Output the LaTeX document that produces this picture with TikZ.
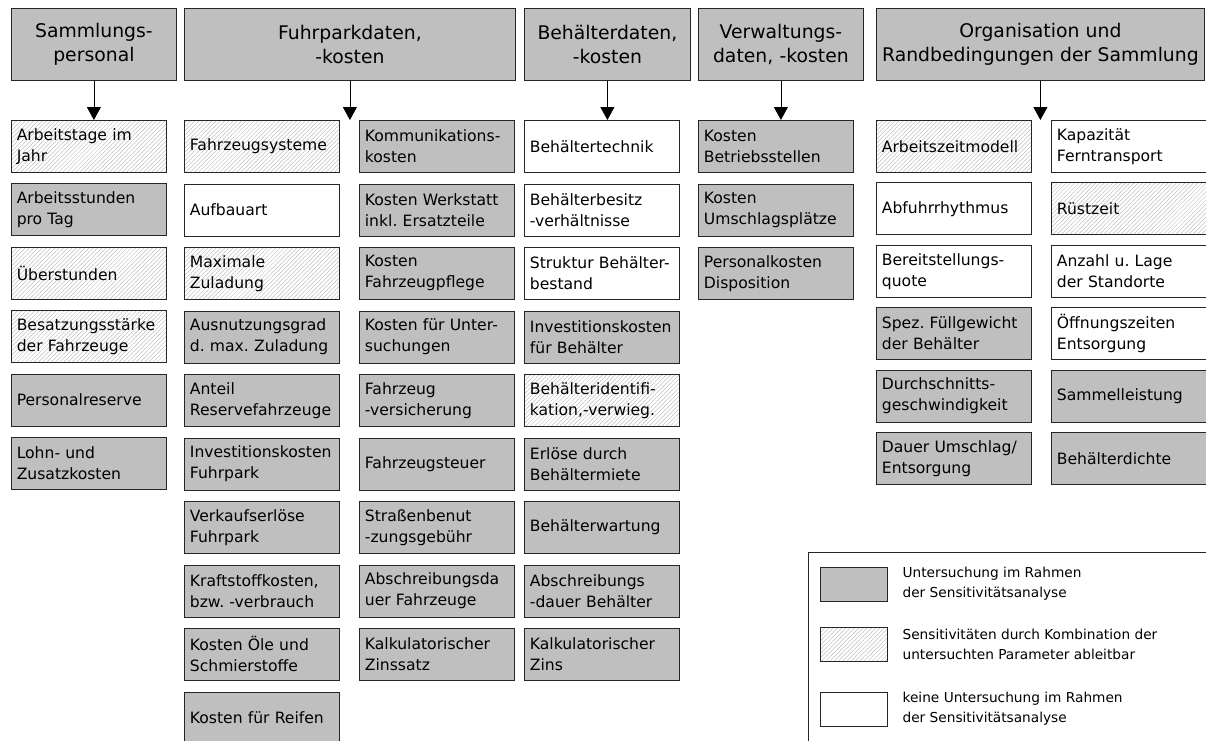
\documentclass[tikz,border=0pt]{standalone}
\usepackage{fontspec}
\setmainfont{DejaVu Sans}
\usetikzlibrary{positioning,chains,scopes,arrows.meta,patterns.meta}
\definecolor{boxgray}{gray}{0.75}
\hyphenpenalty=10000
\exhyphenpenalty=10000
\frenchspacing

\begin{document}
\begin{tikzpicture}[
  x=1pt, y=-1pt,
  node distance = 10.7pt,
  base node/.style={
    draw=black!85,
    line width=0.8pt,
    inner ysep=0pt,
  },
  head node/.style={
    base node,
    fill=boxgray,
    anchor=north west,
    inner xsep=4pt,
    text width=#1,
    minimum height=72pt,
    align=center,
    font=\fontsize{18.8}{24}\selectfont,
  },
  item node/.style={
    base node,
    inner xsep=5.5pt,
    text width=144pt,
    minimum height=52pt,
    align=left,
    font=\fontsize{15.6}{21}\selectfont,
  },
  hatched/.style={
    pattern={Lines[angle=45,distance=3pt,line width=0.5pt]},
    pattern color=black!25,
  },
  gray node/.style={item node, fill=boxgray},
  hatch node/.style={item node, hatched},
  plain node/.style={item node, fill=white},
  key node/.style={
    base node,
    minimum width=67pt,
    minimum height=34pt,
    inner sep=0pt,
  },
  key text/.style={
    inner sep=0pt,
    align=left,
    font=\fontsize{13.7}{20}\selectfont,
  },
  down arrow/.style={-{Triangle[width=14pt,length=13pt]}, line width=0.8pt},
  ]
  \useasboundingbox (0,0) rectangle (1206,740);

  % header row
  \node[head node=157pt] (h1) at (11,8) {Sammlungs-\\personal};
  \node[head node=323pt] (h2) at (184,8) {Fuhrparkdaten,\\-kosten};
  \node[head node=158pt] (h3) at (524,8) {Behälterdaten,\\-kosten};
  \node[head node=157pt] (h4) at (698,8) {Verwaltungs-\\daten, -kosten};
  \node[head node=320pt] (h5) at (876,8) {Organisation und\\Randbedingungen der Sammlung};

  {[start chain=going below]
    \node[on chain,hatch node,anchor=north west] (s1) at (11,120) {Arbeitstage im\\Jahr};
    \node[on chain,gray node] (s2) {Arbeitsstunden\\pro Tag};
    \node[on chain,hatch node] (s3) {Überstunden};
    \node[on chain,hatch node] (s4) {Besatzungsstärke\\der Fahrzeuge};
    \node[on chain,gray node] (s5) {Personalreserve};
    \node[on chain,gray node] (s6) {Lohn- und\\Zusatzkosten};
  }
  {[start chain=going below]
    \node[on chain,hatch node,anchor=north west] (f1) at (184,120) {Fahrzeugsysteme};
    \node[on chain,plain node] (f2) {Aufbauart};
    \node[on chain,hatch node] (f3) {Maximale\\Zuladung};
    \node[on chain,gray node] (f4) {Ausnutzungsgrad\\d. max. Zuladung};
    \node[on chain,gray node] (f5) {Anteil\\Reservefahrzeuge};
    \node[on chain,gray node] (f6) {Investitionskosten\\Fuhrpark};
    \node[on chain,gray node] (f7) {Verkaufserlöse\\Fuhrpark};
    \node[on chain,gray node] (f8) {Kraftstoffkosten,\\bzw. -verbrauch};
    \node[on chain,gray node] (f9) {Kosten Öle und\\Schmierstoffe};
    \node[on chain,gray node] (f10) {Kosten für Reifen};
  }
  {[start chain=going below]
    \node[on chain,gray node,anchor=north west] (k1) at (359,120) {Kommunikations-\\kosten};
    \node[on chain,gray node] (k2) {Kosten Werkstatt\\inkl. Ersatzteile};
    \node[on chain,gray node] (k3) {Kosten\\Fahrzeugpflege};
    \node[on chain,gray node] (k4) {Kosten für Unter-\\suchungen};
    \node[on chain,gray node] (k5) {Fahrzeug\\-versicherung};
    \node[on chain,gray node] (k6) {Fahrzeugsteuer};
    \node[on chain,gray node] (k7) {Straßenbenut\\-zungsgebühr};
    \node[on chain,gray node] (k8) {Abschreibungsda\\uer Fahrzeuge};
    \node[on chain,gray node] (k9) {Kalkulatorischer\\Zinssatz};
  }
  {[start chain=going below]
    \node[on chain,plain node,anchor=north west] (b1) at (524,120) {Behältertechnik};
    \node[on chain,plain node] (b2) {Behälterbesitz\\-verhältnisse};
    \node[on chain,plain node] (b3) {Struktur Behälter-\\bestand};
    \node[on chain,gray node] (b4) {Investitionskosten\\für Behälter};
    \node[on chain,hatch node] (b5) {Behälteridentifi-\\kation,-verwieg.};
    \node[on chain,gray node] (b6) {Erlöse durch\\Behältermiete};
    \node[on chain,gray node] (b7) {Behälterwartung};
    \node[on chain,gray node] (b8) {Abschreibungs\\-dauer Behälter};
    \node[on chain,gray node] (b9) {Kalkulatorischer\\Zins};
  }
  {[start chain=going below]
    \node[on chain,gray node,anchor=north west] (v1) at (698,120) {Kosten\\Betriebsstellen};
    \node[on chain,gray node] (v2) {Kosten\\Umschlagsplätze};
    \node[on chain,gray node] (v3) {Personalkosten\\Disposition};
  }
  {[start chain=going below,node distance=9.6pt]
    \node[on chain,hatch node,anchor=north west] (o1) at (876,120) {Arbeitszeitmodell};
    \node[on chain,plain node] (o2) {Abfuhrrhythmus};
    \node[on chain,plain node] (o3) {Bereitstellungs-\\quote};
    \node[on chain,gray node] (o4) {Spez. Füllgewicht\\der Behälter};
    \node[on chain,gray node] (o5) {Durchschnitts-\\geschwindigkeit};
    \node[on chain,gray node] (o6) {Dauer Umschlag/\\Entsorgung};
  }
  {[start chain=going below,node distance=9.6pt]
    \node[on chain,plain node,anchor=north west] (r1) at (1051,120) {Kapazität\\Ferntransport};
    \node[on chain,hatch node] (r2) {Rüstzeit};
    \node[on chain,plain node] (r3) {Anzahl u. Lage\\der Standorte};
    \node[on chain,plain node] (r4) {Öffnungszeiten\\Entsorgung};
    \node[on chain,gray node] (r5) {Sammelleistung};
    \node[on chain,gray node] (r6) {Behälterdichte};
  }

  \draw[down arrow] (h1.south) -- (h1.south |- s1.north);
  \draw[down arrow] (h2.south) -- (h2.south |- f1.north);
  \draw[down arrow] (h3.south) -- (h3.south |- b1.north);
  \draw[down arrow] (h4.south) -- (h4.south |- v1.north);
  \draw[down arrow] (h5.south) -- (h5.south |- o1.north);

  % legend
  \draw[line width=0.8pt,draw=black!85] (1212,552) -- (808,552) -- (808,746);
  \node[key node,fill=boxgray] (key1) at (853.5,584) {};
  \node[key node,hatched] (key2) at (853.5,644.5) {};
  \node[key node,fill=white] (key3) at (853.5,709) {};
  \node[key text,right=15pt of key1] (l1) {Untersuchung im Rahmen\\der Sensitivitätsanalyse};
  \node[key text,right=15pt of key2] (l2) {Sensitivitäten durch Kombination der\\untersuchten Parameter ableitbar};
  \node[key text,right=15pt of key3] (l3) {keine Untersuchung im Rahmen\\der Sensitivitätsanalyse};
\end{tikzpicture}
\end{document}
